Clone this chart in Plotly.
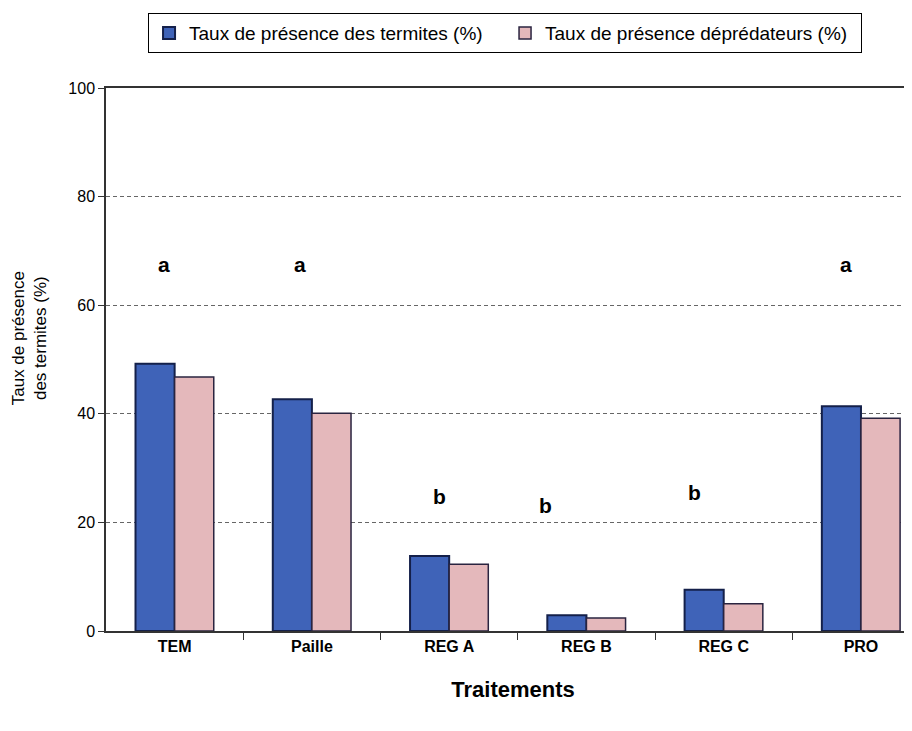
import plotly.graph_objects as go

categories = ["TEM", "Paille", "REG A", "REG B", "REG C", "PRO"]
termites = [49.2, 42.7, 13.8, 2.9, 7.6, 41.4]
depredateurs = [46.8, 40.1, 12.3, 2.4, 5.0, 39.2]
letters = ["a", "a", "b", "b", "b", "a"]
letter_y = [67.5, 67.5, 24.8, 23.2, 25.5, 67.5]
letter_dx = [-0.08, -0.09, -0.07, -0.30, -0.21, -0.11]

xpos = list(range(len(categories)))
font = "Liberation Sans, Arial, sans-serif"

fig = go.Figure()
fig.add_trace(
    go.Bar(
        x=xpos,
        y=termites,
        name="Taux de présence des termites (%)",
        marker=dict(color="#3f63b8", line=dict(color="#14204a", width=2)),
    )
)
fig.add_trace(
    go.Bar(
        x=xpos,
        y=depredateurs,
        name="Taux de présence déprédateurs (%)",
        marker=dict(color="#e4b8bb", line=dict(color="#2a2440", width=1.5)),
    )
)

for i, (txt, ly, dx) in enumerate(zip(letters, letter_y, letter_dx)):
    fig.add_annotation(
        x=i + dx,
        y=ly,
        text=f"<b>{txt}</b>",
        showarrow=False,
        font=dict(size=21, color="black", family=font),
    )

# y axis title drawn as an annotation so it can sit a bit above centre
fig.add_annotation(
    xref="paper",
    yref="paper",
    x=-0.094,
    y=0.54,
    text="Taux de présence<br>des termites (%)",
    textangle=-90,
    showarrow=False,
    xanchor="center",
    yanchor="middle",
    font=dict(size=17, color="black", family=font),
)

fig.update_xaxes(
    range=[-0.5, 5.43],
    tickvals=xpos,
    ticktext=[f"<b>{c}</b>" for c in categories],
    tickfont=dict(size=16, color="black", family=font),
    ticks="",
    showline=True,
    linecolor="#333333",
    linewidth=1.5,
    mirror=True,
    showgrid=False,
    zeroline=False,
    automargin=False,
    minor=dict(tickvals=[0.5, 1.5, 2.5, 3.5, 4.5], ticks="outside", ticklen=7, tickcolor="#333333"),
    title=dict(text="<b>Traitements</b>", font=dict(size=22, color="black", family=font), standoff=28),
)
fig.update_yaxes(
    range=[0, 100],
    dtick=20,
    tickfont=dict(size=16, color="black", family=font),
    ticks="outside",
    ticklen=6,
    tickcolor="#333333",
    showline=True,
    linecolor="#333333",
    linewidth=1.5,
    showgrid=True,
    gridcolor="#666666",
    griddash="4px,3px",
    gridwidth=1,
    zeroline=False,
    automargin=False,
)

# the page body adds an 8px offset, so the margins compensate for it
fig.update_layout(
    width=912,
    height=731,
    margin=dict(l=98, r=0, t=80, b=108),
    plot_bgcolor="white",
    paper_bgcolor="white",
    barmode="group",
    bargap=0.43,
    bargroupgap=0,
    showlegend=True,
    legend=dict(
        orientation="h",
        xref="container",
        yref="container",
        x=0.545,
        xanchor="center",
        y=0.993,
        yanchor="top",
        bordercolor="black",
        borderwidth=1,
        font=dict(size=19, color="black", family=font),
        itemwidth=30,
        entrywidth=311,
        entrywidthmode="pixels",
        tracegroupgap=0,
    ),
)

fig.write_html("out.html")
